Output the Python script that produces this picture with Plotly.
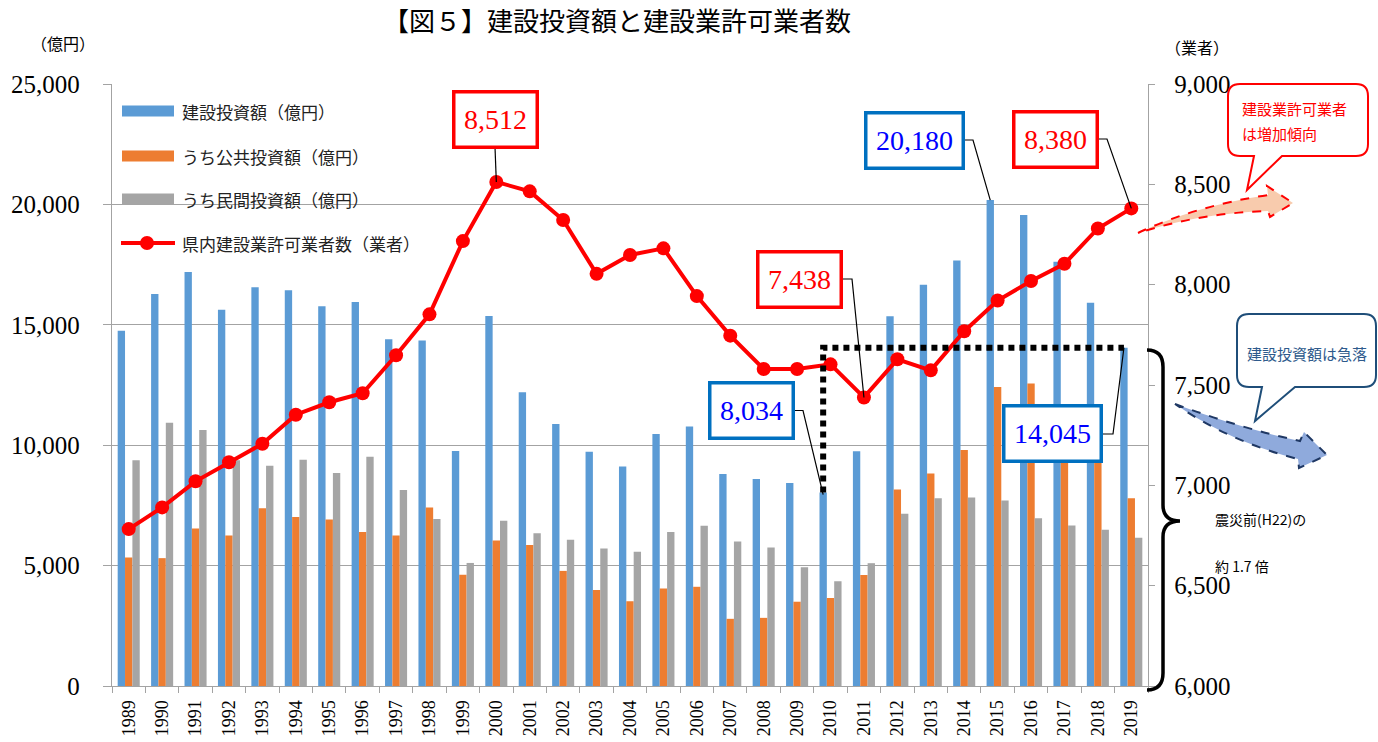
import plotly.graph_objects as go

# ---------------- data ----------------
years = [str(y) for y in range(1989, 2020)]

invest_total = [14750, 16280, 17190, 15630, 16560, 16430, 15770, 15950, 14400, 14350,
                9760, 15370, 12200, 10880, 9730, 9120, 10460, 10780, 8800, 8600,
                8430, 8034, 9750, 15350, 16660, 17670, 20180, 19560, 17620, 15920, 14045]

invest_public = [5340, 5310, 6540, 6250, 7380, 7020, 6910, 6400, 6250, 7410,
                 4620, 6040, 5860, 4780, 3990, 3520, 4050, 4120, 2790, 2830,
                 3500, 3650, 4610, 8160, 8820, 9800, 12420, 12560, 10950, 9430, 7800]

invest_private = [9370, 10930, 10630, 9370, 9150, 9400, 8850, 9520, 8140, 6940,
                  5110, 6860, 6340, 6070, 5710, 5580, 6400, 6650, 6000, 5750,
                  4930, 4350, 5100, 7150, 7800, 7830, 7700, 6970, 6670, 6490, 6160]

permit_count = [6782, 6890, 7020, 7115, 7207, 7352, 7414, 7459, 7648, 7852,
                8217, 8512, 8465, 8322, 8054, 8148, 8181, 7943, 7746, 7580,
                7580, 7603, 7438, 7628, 7573, 7768, 7921, 8018, 8104, 8280, 8380]

series_names = ["建設投資額（億円）", "うち公共投資額（億円）", "うち民間投資額（億円）", "県内建設業許可業者数（業者）"]
colors = ["#5B9BD5", "#ED7D31", "#A5A5A5", "#FF0000"]

# ---------------- geometry ----------------
W, H = 1378, 742
X0, X1, Y0, Y1 = 112, 1148, 84, 686
N = len(years)
CAT = (X1 - X0) / N
BARGAP = 0.34
BW = CAT * (1 - BARGAP) / 3
YL = [0, 25000]
YR = [6000, 9000]


def px(x):
    return (x - X0) / (X1 - X0)


def py(y):
    return (Y1 - y) / (Y1 - Y0)


def P(x, y):
    return f"{px(x):.5f},{py(y):.5f}"


def cat_x(i, off=0.0):
    return X0 + (i + 0.5) * CAT + off


def yl(v):
    return Y1 - (v - YL[0]) / (YL[1] - YL[0]) * (Y1 - Y0)


def yr(v):
    return Y1 - (v - YR[0]) / (YR[1] - YR[0]) * (Y1 - Y0)


SERIF = "Liberation Serif, DejaVu Serif, serif"
SANS = "Noto Sans CJK JP, Noto Sans, sans-serif"
GRID = "#A3A3A3"

fig = go.Figure()
for vals, name, col in zip([invest_total, invest_public, invest_private], series_names[:3], colors[:3]):
    fig.add_trace(go.Bar(x=years, y=vals, name=name, marker=dict(color=col, line=dict(width=0)),
                         yaxis="y"))
fig.add_trace(go.Scatter(x=years, y=permit_count, name=series_names[3], yaxis="y2",
                         mode="lines+markers", line=dict(color=colors[3], width=4),
                         marker=dict(color=colors[3], size=14)))

fig.update_layout(
    width=W, height=H,
    margin=dict(l=X0, r=W - X1, t=Y0, b=H - Y1, autoexpand=False),
    paper_bgcolor="white", plot_bgcolor="white",
    showlegend=False,
    barmode="group", bargap=BARGAP, bargroupgap=0,
    title=dict(text="【図５】建設投資額と建設業許可業者数", x=617 / W, xanchor="center",
               y=1 - 22 / H, yanchor="middle", font=dict(family=SANS, size=26, color="black")),
    xaxis=dict(type="category", range=[-0.5, N - 0.5], showline=True, linecolor=GRID, linewidth=1.3,
               ticks="outside", tickson="boundaries", ticklen=6, tickcolor=GRID,
               tickangle=-90, tickfont=dict(family=SERIF, size=18, color="black"),
               showgrid=False, zeroline=False, ticklabelstandoff=6),
    yaxis=dict(range=YL, dtick=5000, tickformat=",", showgrid=True, gridcolor=GRID, gridwidth=1.3,
               showline=True, linecolor=GRID, linewidth=1.3, ticks="outside", ticklen=8,
               tickcolor=GRID, tickfont=dict(family=SERIF, size=25, color="black"),
               zeroline=False, ticklabelstandoff=18),
    yaxis2=dict(range=YR, dtick=500, tickformat=",", overlaying="y", side="right",
                showgrid=False, showline=True, linecolor=GRID, linewidth=1.3, ticks="outside",
                ticklen=6, tickcolor=GRID, tickfont=dict(family=SERIF, size=25, color="black"),
                zeroline=False, ticklabelstandoff=14),
)

shapes = []
annots = []

# axis unit labels
annots.append(dict(xref="paper", yref="paper", x=px(63), y=py(43), text="（億円）", showarrow=False,
                   font=dict(family=SANS, size=16, color="black"), xanchor="center", yanchor="middle"))
annots.append(dict(xref="paper", yref="paper", x=px(1197), y=py(47), text="（業者）", showarrow=False,
                   font=dict(family=SANS, size=16, color="black"), xanchor="center", yanchor="middle"))

# custom legend
leg_y = [111, 156, 199, 243]
for k in range(3):
    shapes.append(dict(type="rect", xref="paper", yref="paper", x0=px(122), x1=px(174),
                       y0=py(leg_y[k] - 5.5), y1=py(leg_y[k] + 5.5), fillcolor=colors[k],
                       line=dict(width=0)))
shapes.append(dict(type="line", xref="paper", yref="paper", x0=px(121), x1=px(175),
                   y0=py(leg_y[3]), y1=py(leg_y[3]), line=dict(color=colors[3], width=4)))
shapes.append(dict(type="circle", xref="paper", yref="paper", x0=px(140), x1=px(154),
                   y0=py(leg_y[3] - 7), y1=py(leg_y[3] + 7), fillcolor=colors[3],
                   line=dict(width=0)))
for k in range(4):
    annots.append(dict(xref="paper", yref="paper", x=px(180), y=py(leg_y[k]), text=series_names[k],
                       showarrow=False, xanchor="left", yanchor="middle",
                       font=dict(family=SANS, size=17, color="#222222")))

# dotted comparison line 2010 -> 2019
i10, i19 = years.index("2010"), years.index("2019")
shapes.append(dict(type="path", xref="paper", yref="paper",
                   path=f"M {P(cat_x(i10, -BW), yl(invest_total[i10]))} L {P(cat_x(i10, -BW), yl(invest_total[i19]))} "
                        f"L {P(cat_x(i19, -BW), yl(invest_total[i19]))}",
                   line=dict(color="black", width=6, dash="6px,5px")))


# value label boxes with leader lines
def label(text, cx, cy, w, color, border, leader):
    annots.append(dict(xref="paper", yref="paper", x=px(cx), y=py(cy), text=text, showarrow=False,
                       xanchor="center", yanchor="middle", width=w, height=46, borderpad=3,
                       bordercolor=border, borderwidth=3.5, bgcolor="white",
                       font=dict(family=SERIF, size=28, color=color)))
    pts = " L ".join(P(a, b) for a, b in leader)
    shapes.append(dict(type="path", xref="paper", yref="paper", path="M " + pts,
                       line=dict(color="black", width=1.2), layer="above"))


i00 = years.index("2000")
label(f"{permit_count[i00]:,}", 495, 119.5, 74, "#FF0000", "#FF0000",
      [(495, 147), (cat_x(i00), yr(permit_count[i00]))])
i11 = years.index("2011")
label(f"{permit_count[i11]:,}", 799.5, 279.5, 74, "#FF0000", "#FF0000",
      [(841, 279), (852, 279), (cat_x(i11), yr(permit_count[i11]))])
label(f"{invest_total[i10]:,}", 751, 410.5, 74, "#0000FF", "#0070C0",
      [(793, 410.5), (803, 410.5), (cat_x(i10, -BW), yl(invest_total[i10]) + 2)])
i15 = years.index("2015")
label(f"{invest_total[i15]:,}", 914, 140.5, 88, "#0000FF", "#0070C0",
      [(963, 140), (973, 140), (cat_x(i15, -BW), yl(invest_total[i15]))])
label(f"{permit_count[i19]:,}", 1055.5, 139.5, 74, "#FF0000", "#FF0000",
      [(1097, 139), (1107, 139), (cat_x(i19), yr(permit_count[i19]))])
label(f"{invest_total[i19]:,}", 1052.5, 434, 88, "#0000FF", "#0070C0",
      [(1102, 434), (1113, 434), (cat_x(i19, -BW), yl(invest_total[i19]))])

# curly brace
brace = (f"M {P(1147, 350)} Q {P(1163, 350)} {P(1163, 367)} L {P(1163, 505)} "
         f"Q {P(1163, 521)} {P(1180, 521)} Q {P(1163, 521)} {P(1163, 537)} "
         f"L {P(1163, 673)} Q {P(1163, 690)} {P(1147, 690)}")
shapes.append(dict(type="path", xref="paper", yref="paper", path=brace,
                   line=dict(color="black", width=3.5)))
annots.append(dict(xref="paper", yref="paper", x=px(1213), y=py(519), text="震災前(H22)の",
                   showarrow=False, xanchor="left", yanchor="middle",
                   font=dict(family=SANS, size=14, color="black")))
annots.append(dict(xref="paper", yref="paper", x=px(1213), y=py(566), text="約 1.7 倍",
                   showarrow=False, xanchor="left", yanchor="middle",
                   font=dict(family=SANS, size=14, color="black")))

# red arrow + callout
red_arrow = (f"M {P(1138, 233)} Q {P(1195, 206)} {P(1268, 195)} L {P(1267, 186)} L {P(1293, 203)} "
             f"L {P(1270, 217)} L {P(1268, 211)} Q {P(1200, 213)} {P(1138, 233)} Z")
shapes.append(dict(type="path", xref="paper", yref="paper", path=red_arrow, fillcolor="#F8CBAD",
                   line=dict(color="#FF0000", width=2, dash="dash")))
red_call = (f"M {P(1240, 84)} L {P(1356, 84)} Q {P(1368, 84)} {P(1368, 96)} L {P(1368, 144)} "
            f"Q {P(1368, 156)} {P(1356, 156)} L {P(1282, 156)} L {P(1247, 190)} L {P(1254, 156)} "
            f"L {P(1240, 156)} Q {P(1228, 156)} {P(1228, 144)} L {P(1228, 96)} Q {P(1228, 84)} {P(1240, 84)} Z")
shapes.append(dict(type="path", xref="paper", yref="paper", path=red_call, fillcolor="white",
                   line=dict(color="#FF0000", width=2)))
annots.append(dict(xref="paper", yref="paper", x=px(1240), y=py(108), text="建設業許可業者",
                   showarrow=False, xanchor="left", yanchor="middle",
                   font=dict(family=SANS, size=15, color="#FF0000")))
annots.append(dict(xref="paper", yref="paper", x=px(1240), y=py(133), text="は増加傾向",
                   showarrow=False, xanchor="left", yanchor="middle",
                   font=dict(family=SANS, size=15, color="#FF0000")))

# blue arrow + callout
blue_arrow = (f"M {P(1175, 404)} Q {P(1240, 428)} {P(1300, 441)} L {P(1304, 432)} L {P(1327, 455)} "
              f"L {P(1299, 468)} L {P(1298, 459)} Q {P(1230, 442)} {P(1175, 404)} Z")
shapes.append(dict(type="path", xref="paper", yref="paper", path=blue_arrow, fillcolor="#8FAADC",
                   line=dict(color="#1F3864", width=2, dash="dash")))
blue_call = (f"M {P(1249, 314)} L {P(1364, 314)} Q {P(1376, 314)} {P(1376, 326)} L {P(1376, 375)} "
             f"Q {P(1376, 387)} {P(1364, 387)} L {P(1295, 387)} L {P(1255, 421)} L {P(1262, 387)} "
             f"L {P(1249, 387)} Q {P(1237, 387)} {P(1237, 375)} L {P(1237, 326)} Q {P(1237, 314)} {P(1249, 314)} Z")
shapes.append(dict(type="path", xref="paper", yref="paper", path=blue_call, fillcolor="white",
                   line=dict(color="#1F4E79", width=2)))
annots.append(dict(xref="paper", yref="paper", x=px(1307), y=py(353), text="建設投資額は急落",
                   showarrow=False, xanchor="center", yanchor="middle",
                   font=dict(family=SANS, size=15, color="#2E5A8C")))

fig.update_layout(shapes=shapes, annotations=annots)

fig.write_html("out.html", config={"displayModeBar": False},
               post_script="document.body.style.margin='0';document.body.style.overflow='hidden';")
